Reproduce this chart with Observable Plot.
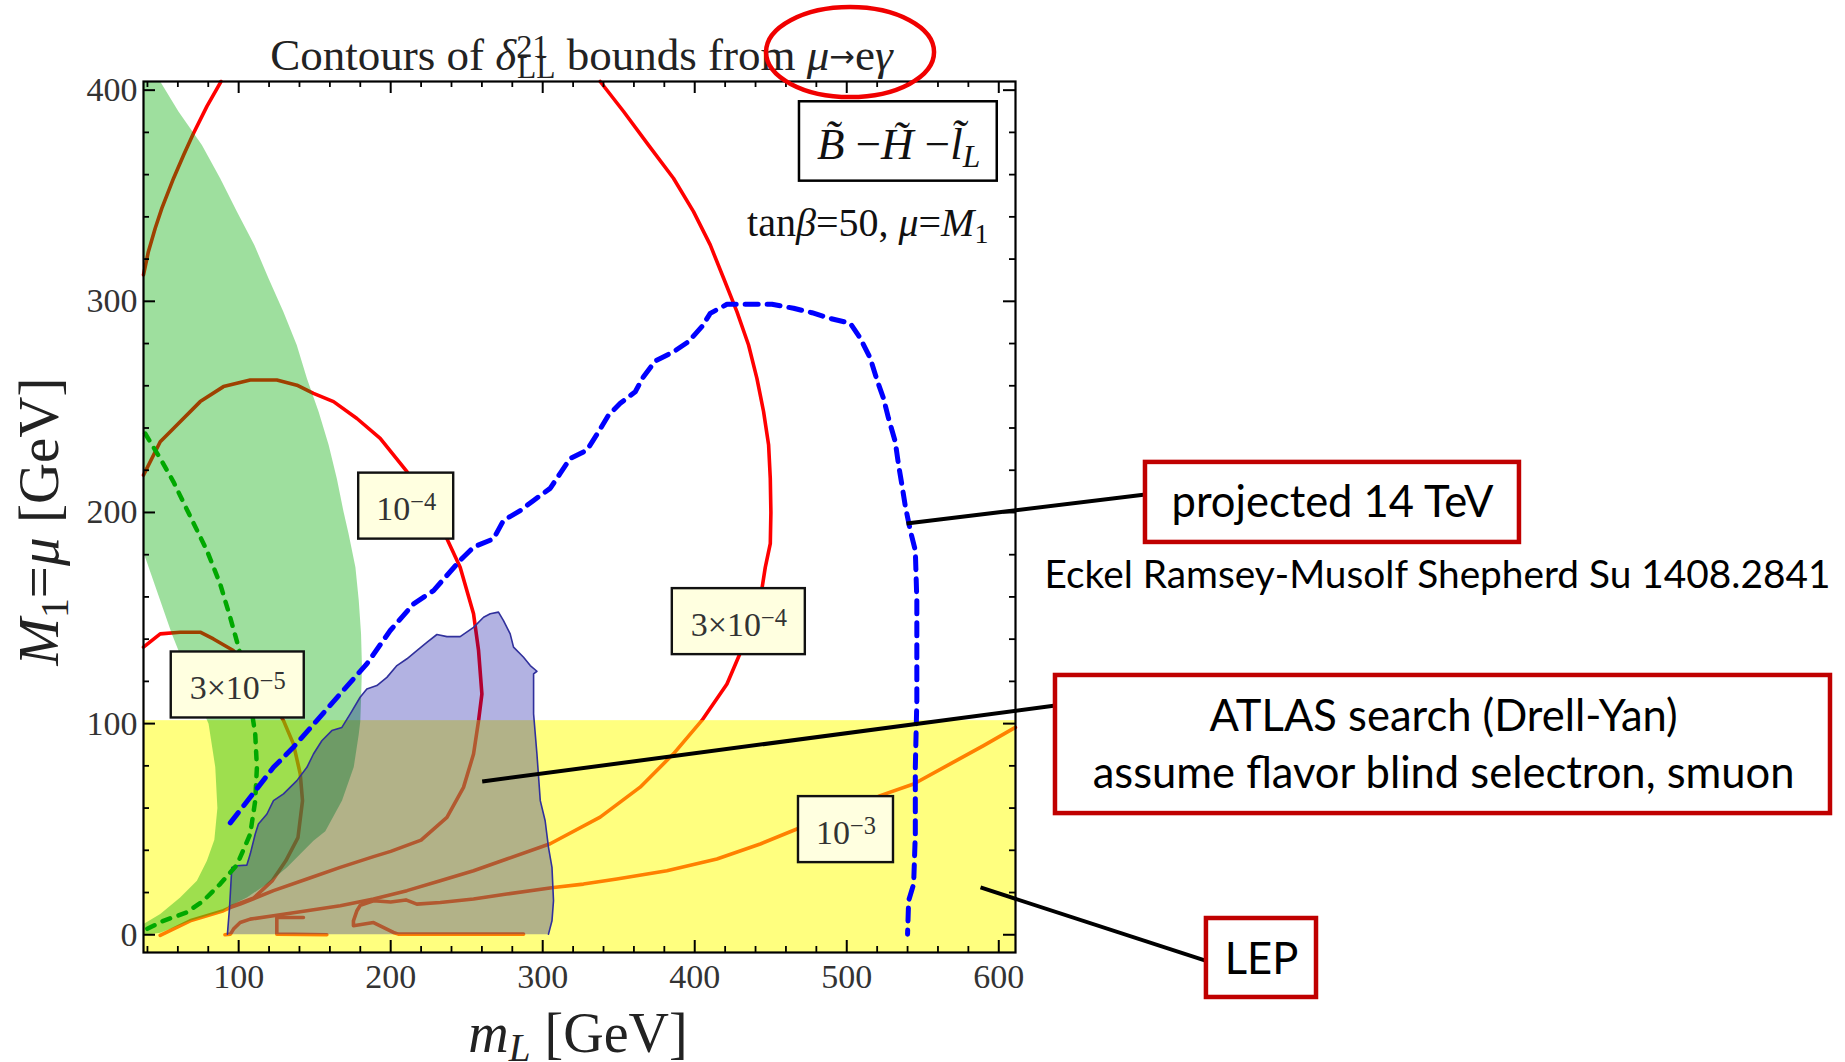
<!DOCTYPE html>
<html><head><meta charset="utf-8">
<script src="https://cdn.jsdelivr.net/npm/d3@7"></script>
<script src="https://cdn.jsdelivr.net/npm/@observablehq/plot@0.6"></script>
<style>html,body{margin:0;padding:0;background:#fff;overflow:hidden}</style>
</head><body><div id="chart"></div>
<script>
// ---------------- data (m_L, M1 in GeV) ----------------
const xDomain = [37.4, 611];
const yDomain = [-8.4, 404.1];
const xMajor = [100, 200, 300, 400, 500, 600];
const xMinor = [40, 60, 80, 120, 140, 160, 180, 220, 240, 260, 280, 320, 340, 360, 380, 420, 440, 460, 480, 520, 540, 560, 580];
const yMajor = [0, 100, 200, 300, 400];
const yMinor = [20, 40, 60, 80, 120, 140, 160, 180, 220, 240, 260, 280, 320, 340, 360, 380];

// LEP excluded region
const lepRegion = [{x1: 37.4, x2: 611, y1: -8.4, y2: 101.4}];

// contours of delta_LL^21 bound (red lines)
const contourTopLeft = [[37.4,312.5],[40.6,323.5],[45.1,334.6],[49.5,344.1],[57.2,358.3],[63.8,369.3],[70.3,379.6],[79.1,392.3],[87.8,403.3],[88.3,404.1]];
const contour1e4 = [[37.4,217.7],[48.4,233.5],[57.1,239.8],[74.7,252.5],[90,259.6],[107.6,262.7],[125.1,262.7],[138.3,260.3],[149.2,256.4],[162.4,252.5],[177.8,244.5],[193.1,235.1],[210.7,219.3],[224,204],[237,187.5],[245.7,174.1],[254.5,152],[257.8,134.6],[260,114],[257.8,101.4],[254.5,85.6],[247.9,69.8],[237,55.6],[220,44.8],[200,39.5],[188.7,37],[166.8,31.9],[144.9,26.4],[122.9,20.9],[101,14.5],[94.4,12.9],[90,11.4],[68.1,6.6],[48.4,-0.3]];
const contour3e5 = [[37.4,136.2],[48.4,142.5],[61.5,143.3],[74.7,143.3],[83.4,140.1],[96.5,134.6],[115,118],[129.5,101.4],[136,90.4],[140.5,76.2],[142,63.5],[139,46],[131,35],[122,25.5],[110,17.5],[94.4,13.2]];
const contour3e4 = [[337.8,404.1],[353.2,389.9],[369.6,374],[386,358.3],[399.2,342.5],[410.2,326.7],[419,310.9],[427.8,295],[435.4,279.3],[440.9,263.5],[445.3,247.7],[448.6,231.9],[449.7,216],[450.1,200],[449.7,185.2],[446.4,174],[444.2,163.9],[437,148],[429.5,132.7],[421.2,118.8],[404.7,101.5],[386,85.7],[364.1,69.9],[337.8,55.7],[304.9,43.1],[276.4,35.9],[254.5,30.3],[232.6,25.6],[210.7,20.9],[188.7,16.9],[166.8,13.7],[144.9,11.4],[122.9,9],[107.6,7.4],[101,5.8],[96.6,2.7],[94.6,0.3],[91,0]];
const contour1e3 = [[610.9,98.2],[590,89.6],[568.1,80.9],[544,71.4],[522,65.9],[495,57],[467.2,50.1],[443.1,43],[414.6,35.9],[381.7,30.3],[348.8,26.4],[326.8,24],[307.1,22.4],[276.4,19.3],[254.5,16.9],[232.6,15.3],[217.2,14.5],[210,16.5],[200,15.5],[188.7,16.1],[180,14],[177.8,11.4],[175.5,6.6],[175.5,4.3],[188.7,5.8],[201.8,1.1],[205,0.3],[287.4,0.3]];
const contourJag = [[142.6,8.2],[125.1,8.2],[125.1,0.3],[158,0]];

// neutralino dark-matter band (green)
const greenBand = [[37.4,404.1],[48.4,404.1],[60.4,389.9],[75.8,374],[87.8,358.3],[98.8,342.5],[110.3,326.7],[119.6,310.9],[129.4,295],[138.2,279.3],[144.9,263.5],[152.6,247.7],[159.2,231.9],[164.6,216],[169,200.3],[172.3,189.9],[176.8,174.1],[179,158.3],[180.5,142.5],[181.1,126.7],[180.5,110.9],[180,101],[179,95],[175.7,79.4],[168,63.6],[157,49],[149.2,44.5],[131.7,31.9],[118.6,24],[105.4,17.7],[94.4,13.7],[90,11.4],[68.1,6.6],[48.4,1],[39,0],[37.4,0],[37.4,5.1],[48.4,9.8],[61.5,17.7],[72.5,25.6],[79.1,35.1],[84,45],[86,60],[84.6,79.4],[80.2,99.9],[73.6,110.9],[64.8,126.7],[56,142.5],[48.4,158.3],[38.5,178.8],[37.4,181]];

// green dashed contour
const greenDashed = [[38.5,237.4],[48.4,225.6],[57.1,214.5],[68.1,198.2],[79.1,182],[87.8,166.2],[94.4,150.4],[99.9,136.2],[106,118],[110.9,95.1],[112,79.3],[110.9,63.5],[107.6,47.7],[98.8,33],[87.8,24],[76.8,16.1],[65.9,10.6],[50.5,6.6],[39.6,2.7]];

// ATLAS Drell-Yan exclusion (blue)
const atlasRegion = [[92.6,0.3],[94,12.9],[95.5,31.9],[98.8,32.7],[105.4,33],[107.6,38.2],[110.9,47.7],[113,52.5],[118.6,57.2],[122.9,63.5],[129.5,66.7],[138.3,73],[144.9,79.3],[149.2,85.6],[154.7,91.9],[161.3,96.7],[167.9,98.2],[173.4,104.6],[179.9,112.5],[184.3,116.4],[190.9,118],[197.5,121.9],[204.1,127.5],[210.7,130.7],[217.2,134.6],[223.8,138.5],[230.4,142.2],[237,141.2],[245.7,141.2],[254.5,145.6],[261.1,150.4],[265.5,152],[270.9,152.8],[274.2,148.8],[278.6,142.5],[280.8,136.2],[287.4,131.4],[291.8,127.5],[296.2,124.8],[294,123.6],[294,104.6],[296.2,85.6],[298.4,63.5],[301.6,54],[303.8,41.4],[306.1,31.9],[307.1,16.1],[306.1,6.6],[303.8,0.3]];

// projected 14 TeV reach (blue dashed)
const projected14 = [[94.5,53],[107.6,65.1],[122.9,79.3],[136,88.8],[151.4,101.4],[166.8,114.1],[184.3,128.3],[199.7,144.1],[215,156.7],[228.2,163],[245.7,177.3],[254.5,183.6],[267.6,187.5],[274.2,196.2],[285.2,200.9],[294,205.7],[304.9,211.4],[311.5,218.5],[318.1,225.6],[329.1,229.5],[336.7,238.2],[343.3,246.1],[351,251.7],[360.9,257.2],[366.3,264.3],[374,271.7],[386,276.1],[395.9,280.9],[404.7,288],[410.2,294.3],[421.2,298.6],[436.5,298.6],[450.8,298.6],[465,296.7],[477.1,294.6],[489.1,291.9],[502.3,289.6],[508.9,282.5],[515.5,273],[519.9,262.7],[524.2,254],[527.5,244.5],[531.9,233.5],[534.1,222.4],[536.3,213],[538.5,203],[541.8,191.5],[545.1,182],[546.1,158.3],[546.1,110.9],[545.1,79.3],[545.1,47.7],[544,24],[540.7,16.1],[540,0.3]];

// contour labels (text, position in data space)
const contourLabels = [
  {text: "10−4", x: 210.2, y: 203.0},
  {text: "3×10−5", x: 99.4, y: 118.3},
  {text: "3×10−4", x: 429.0, y: 148.3},
  {text: "10−3", x: 499.5, y: 49.8}
];

// texts
const titleText = [{text: "Contours of δ21LL bounds from μ→eγ", x: 325.5, y: 416.6}];
const modelText = [{text: "B̃ −H̃ −l̃L", x: 534.1, y: 374.3}];
const modelBox = [{x1: 468.9, x2: 599, y1: 356.9, y2: 394.5}];
const paramText = [{text: "tanβ=50, μ=M1", x: 593.2, y: 336.8}];
const xTitle = [{text: "mL [GeV]", x: 323.2, y: -47}];
const yTitle = [{text: "M1=μ [GeV]", x: -30.6, y: 195.7}];
const highlight = [{x: 502.5, y: 417.8}];

// callouts
const calloutBoxes = [
  {x1: 696.5, x2: 942.5, y1: 185.8, y2: 223.7},
  {x1: 637.3, x2: 1147.1, y1: 57.4, y2: 122.8},
  {x1: 736.6, x2: 809, y1: -29.7, y2: 7.7}
];
const calloutText = [
  {text: "projected 14 TeV", x: 819.5, y: 204.4},
  {text: "ATLAS search (Drell-Yan)", x: 892.6, y: 103.2},
  {text: "assume flavor blind selectron, smuon", x: 892.6, y: 75.9},
  {text: "LEP", x: 772.8, y: -12.2}
];
const creditText = [{text: "Eckel Ramsey-Musolf Shepherd Su 1408.2841", x: 888.6, y: 170.2}];
const pointers = [
  {x1: 539.3, y1: 194.8, x2: 696.5, y2: 208.5},
  {x1: 260.2, y1: 72.6, x2: 637.3, y2: 108.6},
  {x1: 588, y1: 22.4, x2: 738, y2: -12.7}
];

// ---------------- build ----------------
const W = 1845, H = 1062, ML = 143, MR = 830, MT = 81, MB = 110;
const innerW = W - ML - MR, innerH = H - MT - MB;
const kx = innerW / (xDomain[1] - xDomain[0]);
const ky = innerH / (yDomain[1] - yDomain[0]);
const toRows = (name, pts) => pts.map(([x, y]) => ({name, x, y}));
const contours = [
  ...toRows("tl", contourTopLeft), ...toRows("1e-4", contour1e4), ...toRows("3e-5", contour3e5),
  ...toRows("3e-4", contour3e4), ...toRows("1e-3", contour1e3), ...toRows("jag", contourJag)
];
const labelW = t => (t.length > 4 ? 133 : 95);
const serif = "Liberation Serif, Times New Roman, serif";
const sans = "Lato, 'Open Sans', sans-serif";

const plot = Plot.plot({
  width: W, height: H,
  marginLeft: ML, marginRight: MR, marginTop: MT, marginBottom: MB,
  x: {domain: xDomain},
  y: {domain: yDomain},
  style: {fontFamily: serif, background: "white", overflow: "visible"},
  marks: [
    Plot.line(contours, {x: "x", y: "y", z: "name", stroke: "#ff0000", strokeWidth: 3.6}),
    Plot.rect(lepRegion, {x1: "x1", x2: "x2", y1: "y1", y2: "y2", fill: "#ffff00", fillOpacity: 0.5}),
    Plot.line(greenBand, {x: d => d[0], y: d => d[1], fill: "#00aa00", fillOpacity: 0.38, stroke: "none"}),
    Plot.line(atlasRegion, {x: d => d[0], y: d => d[1], fill: "#0000a0", fillOpacity: 0.3, stroke: "#30309c", strokeWidth: 1.6}),
    Plot.line(greenDashed, {x: d => d[0], y: d => d[1], stroke: "#00a800", strokeWidth: 4.5, strokeDasharray: "8,9"}),
    Plot.line(projected14, {x: d => d[0], y: d => d[1], stroke: "#0000ff", strokeWidth: 5, strokeDasharray: "13,9"}),
    // contour labels
    Plot.rect(contourLabels, {x1: d => d.x - labelW(d.text) / 2 / kx, x2: d => d.x + labelW(d.text) / 2 / kx,
      y1: d => d.y - 33 / ky, y2: d => d.y + 33 / ky, fill: "#ffffe0", stroke: "#111", strokeWidth: 2.4}),
    Plot.text(contourLabels, {x: "x", y: "y", text: "text", fontSize: 34, fill: "#333", fontFamily: serif, dy: 3}),
    // frame & ticks
    Plot.frame({stroke: "black", strokeWidth: 2.2}),
    Plot.ruleX(xMajor, {insetTop: innerH - 12, stroke: "black", strokeWidth: 2}),
    Plot.ruleX(xMajor, {insetBottom: innerH - 12, stroke: "black", strokeWidth: 2}),
    Plot.ruleX(xMinor, {insetTop: innerH - 6, stroke: "black", strokeWidth: 1.8}),
    Plot.ruleX(xMinor, {insetBottom: innerH - 6, stroke: "black", strokeWidth: 1.8}),
    Plot.ruleY(yMajor, {insetRight: innerW - 12, stroke: "black", strokeWidth: 2}),
    Plot.ruleY(yMajor, {insetLeft: innerW - 12, stroke: "black", strokeWidth: 2}),
    Plot.ruleY(yMinor, {insetRight: innerW - 6, stroke: "black", strokeWidth: 1.8}),
    Plot.ruleY(yMinor, {insetLeft: innerW - 6, stroke: "black", strokeWidth: 1.8}),
    Plot.axisX({ticks: xMajor, anchor: "bottom", tickSize: 0, tickPadding: 11, label: null, fontSize: 34, color: "#333", tickFormat: d => String(d)}),
    Plot.axisY({ticks: yMajor, anchor: "left", tickSize: 0, tickPadding: 6, label: null, fontSize: 34, color: "#333", tickFormat: d => String(d)}),
    // annotations inside plot
    Plot.rect(modelBox, {x1: "x1", x2: "x2", y1: "y1", y2: "y2", fill: "white", stroke: "black", strokeWidth: 2.5}),
    Plot.text(modelText, {x: "x", y: "y", text: "text", fontSize: 45, fill: "#111", fontFamily: serif}),
    Plot.text(paramText, {x: "x", y: "y", text: "text", fontSize: 40, fill: "#111", textAnchor: "end", fontFamily: serif}),
    Plot.text(titleText, {x: "x", y: "y", text: "text", fontSize: 45, fill: "#222", fontFamily: serif}),
    Plot.text(xTitle, {x: "x", y: "y", text: "text", fontSize: 56, fill: "#222", fontFamily: serif}),
    Plot.text(yTitle, {x: "x", y: "y", text: "text", fontSize: 57, fill: "#222", rotate: -90, fontFamily: serif}),
    // callouts
    Plot.link(pointers, {x1: "x1", y1: "y1", x2: "x2", y2: "y2", stroke: "black", strokeWidth: 4}),
    Plot.rect(calloutBoxes, {x1: "x1", x2: "x2", y1: "y1", y2: "y2", fill: "white", stroke: "#c00000", strokeWidth: 4.5}),
    Plot.text(calloutText, {x: "x", y: "y", text: "text", fontSize: 43.5, fill: "#000", fontFamily: sans}),
    Plot.text(creditText, {x: "x", y: "y", text: "text", fontSize: 38.8, fill: "#000", fontFamily: sans})
  ]
});

// rich text (italic / super / subscripts)
const rich = {
  "Contours of δ21LL bounds from μ→eγ": [{t: "Contours of "}, {t: "δ", i: 1}, {t: "21", sup: 1}, {t: "LL", sub: 1, dx: "-1em"}, {t: " bounds from "}, {t: "μ", i: 1}, {t: "→", arrow: 1}, {t: "e"}, {t: "γ", i: 1}],
  "B̃ −H̃ −l̃L": [{t: "B̃", i: 1}, {t: " −"}, {t: "H̃", i: 1}, {t: " −"}, {t: "l̃", i: 1}, {t: "L", i: 1, sub: 1}],
  "tanβ=50, μ=M1": [{t: "tan"}, {t: "β", i: 1}, {t: "=50, "}, {t: "μ", i: 1}, {t: "="}, {t: "M", i: 1}, {t: "1", sub: 1}],
  "mL [GeV]": [{t: "m", i: 1}, {t: "L", i: 1, sub: 1}, {t: " [GeV]"}],
  "M1=μ [GeV]": [{t: "M", i: 1}, {t: "1", sub: 1}, {t: "="}, {t: "μ", i: 1}, {t: " [GeV]"}],
  "10−4": [{t: "10"}, {t: "−4", sup: 1}],
  "10−3": [{t: "10"}, {t: "−3", sup: 1}],
  "3×10−5": [{t: "3×10"}, {t: "−5", sup: 1}],
  "3×10−4": [{t: "3×10"}, {t: "−4", sup: 1}]
};
d3.select(plot).selectAll("text").each(function () {
  const spans = rich[this.textContent];
  if (!spans) return;
  const sel = d3.select(this);
  sel.text(null);
  for (const s of spans) {
    const ts = sel.append("tspan").text(s.t);
    if (s.i) ts.attr("font-style", "italic");
    if (s.sup) ts.attr("baseline-shift", "40%").attr("font-size", "72%");
    if (s.sub) ts.attr("baseline-shift", "-24%").attr("font-size", "70%");
    if (s.dx) ts.attr("dx", s.dx);
    if (s.arrow) ts.attr("font-family", "DejaVu Sans").attr("font-size", "68%").attr("baseline-shift", "10%");
  }
});

// red highlight ellipse around mu -> e gamma
const sx = v => ML + (v - xDomain[0]) * kx;
const sy = v => MT + (yDomain[1] - v) * ky;
d3.select(plot).selectAll("ellipse.hl").data(highlight).join("ellipse")
  .attr("class", "hl")
  .attr("cx", d => sx(d.x)).attr("cy", d => sy(d.y))
  .attr("rx", 84).attr("ry", 45)
  .attr("fill", "none").attr("stroke", "#f00000").attr("stroke-width", 4.5);

document.getElementById("chart").appendChild(plot);
</script>
</body></html>
